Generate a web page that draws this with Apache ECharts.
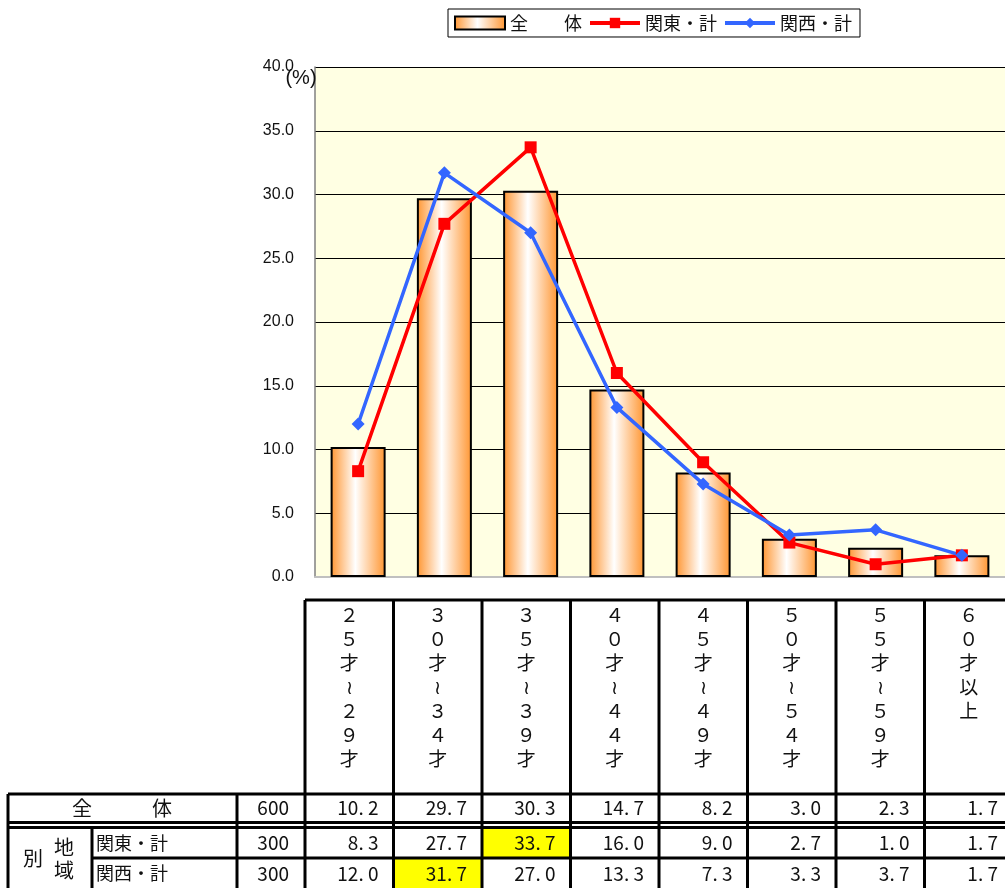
<!DOCTYPE html>
<html>
<head>
<meta charset="utf-8">
<script src="https://cdn.jsdelivr.net/npm/echarts@6/dist/echarts.min.js"></script>
<style>
  html, body { margin: 0; padding: 0; background: #fff; }
  #main { width: 1005px; height: 888px; }
</style>
</head>
<body>
<div id="main"></div>
<script>
// 年齢区分
const categories = ['25才～29才', '30才～34才', '35才～39才', '40才～44才', '45才～49才', '50才～54才', '55才～59才', '60才以上'];
// 構成比 (%)
const total = [10.2, 29.7, 30.3, 14.7, 8.2, 3.0, 2.3, 1.7];
const kanto = [8.3, 27.7, 33.7, 16.0, 9.0, 2.7, 1.0, 1.7];
const kansai = [12.0, 31.7, 27.0, 13.3, 7.3, 3.3, 3.7, 1.7];
// サンプル数
const sampleN = [600, 300, 300];
const seriesNames = ['全　　体', '関東・計', '関西・計'];
const yTicks = [0, 5, 10, 15, 20, 25, 30, 35, 40];

const myChart = echarts.init(document.getElementById('main'));

const FONT = '"Noto Sans CJK JP", sans-serif';
const colX0 = 305, colW = 88.5;
const headTop = 600, r1Top = 794, r1Bot = 822.5, r2Top = 827.5, r2Bot = 858, r3Bot = 889;

function hline(x1, x2, y, w) {
    return { type: 'line', shape: { x1: x1, y1: y, x2: x2, y2: y }, style: { stroke: '#000', lineWidth: w || 3 }, z: 10 };
}
function vline(x, y1, y2, w) {
    return { type: 'line', shape: { x1: x, y1: y1, x2: x, y2: y2 }, style: { stroke: '#000', lineWidth: w || 3 }, z: 10 };
}
function txt(s, x, y, align, size, font) {
    return {
        type: 'text', x: x, y: y, z: 11,
        style: { text: s, font: (size || 19) + 'px ' + (font || FONT), fill: '#111', align: align || 'center', verticalAlign: 'middle' }
    };
}
function fmt(v) {
    return v.toFixed(1).replace('.', '. ');
}
// 縦書き用に全角へ
function toWide(ch) {
    if (ch >= '0' && ch <= '9') return String.fromCharCode(ch.charCodeAt(0) + 0xFEE0);
    if (ch === '～') return '≀';
    return ch;
}

// 表を組み立てる
const table = [];
const rows = [
    { data: total, yc: (r1Top + r1Bot) / 2, top: r1Top, bot: r1Bot },
    { data: kanto, yc: (r2Top + r2Bot) / 2, top: r2Top, bot: r2Bot },
    { data: kansai, yc: (r2Bot + r3Bot) / 2, top: r2Bot, bot: r3Bot }
];
// 地域別の最大値を黄色で
[1, 2].forEach(function (ri) {
    const d = rows[ri].data;
    const k = d.indexOf(Math.max.apply(null, d));
    table.push({
        type: 'rect', z: 9,
        shape: { x: colX0 + k * colW, y: rows[ri].top, width: colW, height: rows[ri].bot - rows[ri].top },
        style: { fill: '#FFFF00' }
    });
});
table.push(hline(colX0, 1010, headTop));
table.push(hline(8, 1010, r1Top));
table.push(hline(8, 1010, r1Bot));
table.push(hline(8, 1010, r2Top));
table.push(hline(92, 1010, r2Bot));
table.push(vline(8, r1Top, 888));
table.push(vline(92, r2Top, 888));
table.push(vline(237, r1Top, 888));
for (let i = 0; i <= categories.length; i++) {
    table.push(vline(colX0 + i * colW, headTop, 888));
}
// 見出し（縦書き）
categories.forEach(function (c, i) {
    c.split('').map(toWide).forEach(function (ch, j) {
        table.push(txt(ch, colX0 + (i + 0.5) * colW, 615 + j * 24, 'center', 19));
    });
});
table.push(txt('全　　　体', 122, rows[0].yc, 'center', 20));
table.push(txt('別', 33, 858, 'center', 20));
table.push(txt('地', 64, 847, 'center', 20));
table.push(txt('域', 64, 870, 'center', 20));
table.push(txt(seriesNames[1], 96, rows[1].yc, 'left', 18));
table.push(txt(seriesNames[2], 96, rows[2].yc, 'left', 18));
rows.forEach(function (r, ri) {
    table.push(txt(String(sampleN[ri]), 289, r.yc, 'right', 19));
    r.data.forEach(function (v, i) {
        table.push(txt(fmt(v), colX0 + (i + 1) * colW - 15, r.yc, 'right', 19));
    });
});
// 単位
table.push(txt('(%)', 301, 78, 'center', 20, '"Liberation Sans", Arial, sans-serif'));

myChart.setOption({
    animation: false,
    legend: {
        left: 448,
        top: 9,
        width: 420,
        padding: [5, 8, 5, 6],
        backgroundColor: '#fff',
        borderColor: '#000',
        borderWidth: 1,
        itemWidth: 50,
        itemHeight: 13,
        itemGap: 6,
        lineStyle: { width: 4 },
        textStyle: { fontFamily: FONT, fontSize: 18, color: '#111' },
        data: [
            { name: seriesNames[0], icon: 'rect' },
            { name: seriesNames[1] },
            { name: seriesNames[2] }
        ]
    },
    grid: {
        left: 315,
        top: 67,
        width: 695,
        height: 510,
        show: true,
        backgroundColor: '#FFFFE3',
        borderWidth: 0
    },
    xAxis: {
        type: 'category',
        data: categories,
        axisLabel: { show: false },
        axisTick: { show: false },
        axisLine: { lineStyle: { color: '#c0c0c0', width: 2 } }
    },
    yAxis: {
        type: 'value',
        min: yTicks[0],
        max: yTicks[yTicks.length - 1],
        interval: 5,
        axisLine: { show: true, lineStyle: { color: '#808080', width: 1.5 } },
        axisTick: { show: false },
        axisLabel: {
            margin: 21,
            fontSize: 16,
            fontFamily: '"Liberation Sans", Arial, sans-serif',
            color: '#111',
            formatter: function (v) { return v.toFixed(1); }
        },
        splitLine: { lineStyle: { color: '#000', width: 1 } }
    },
    series: [
        {
            name: seriesNames[0],
            type: 'bar',
            barWidth: 55,
            data: total,
            itemStyle: {
                borderColor: '#000',
                borderWidth: 2,
                color: new echarts.graphic.LinearGradient(0, 0, 1, 0, [
                    { offset: 0, color: '#FF9530' },
                    { offset: 0.45, color: '#FFFFFF' },
                    { offset: 1, color: '#FF9530' }
                ])
            }
        },
        {
            name: seriesNames[1],
            type: 'line',
            data: kanto,
            symbol: 'rect',
            symbolSize: 12,
            lineStyle: { color: '#FF0000', width: 3.5 },
            itemStyle: { color: '#FF0000' }
        },
        {
            name: seriesNames[2],
            type: 'line',
            data: kansai,
            symbol: 'diamond',
            symbolSize: 13,
            lineStyle: { color: '#3366FF', width: 3.5 },
            itemStyle: { color: '#3366FF' }
        }
    ],
    graphic: table
});
</script>
</body>
</html>
